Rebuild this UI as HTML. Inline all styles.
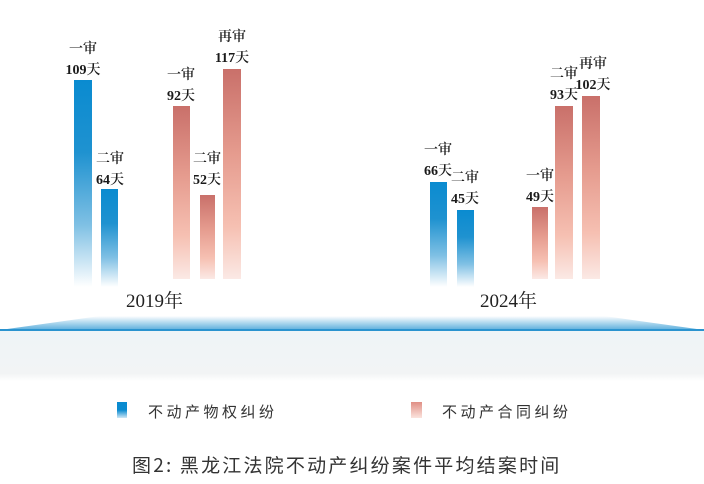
<!DOCTYPE html>
<html><head><meta charset="utf-8"><style>
body{margin:0;width:704px;height:484px;background:#fff;position:relative;overflow:hidden;font-family:"Liberation Serif","Noto Serif CJK SC",serif;color:#222}
.b{position:absolute}
.bl{background:linear-gradient(to bottom,#0a8bd0 0%,#1f92d0 35%,#7fc0e4 70%,rgba(255,255,255,0) 100%)}
.rd{background:linear-gradient(to bottom,#c9706a 0%,#e59b8e 40%,#f6c0b2 75%,#fbe9e5 100%)}
.l{position:absolute;text-align:center;font-size:14px;line-height:21px;width:50px;font-weight:600;color:#1a1a1a}
.y{position:absolute;font-size:19px;top:286px}
.lg{position:absolute;top:401px;font-size:15px;letter-spacing:3.5px;font-family:"Noto Sans CJK SC",sans-serif;color:#333}
</style></head><body>
<div class="b bl" style="left:74px;top:80px;width:18px;height:207px"></div>
<div class="b bl" style="left:101px;top:189px;width:17px;height:98px"></div>
<div class="b rd" style="left:173px;top:106px;width:17px;height:173px"></div>
<div class="b rd" style="left:200px;top:195px;width:15px;height:84px"></div>
<div class="b rd" style="left:223px;top:69px;width:18px;height:210px"></div>
<div class="b bl" style="left:430px;top:182px;width:17px;height:105px"></div>
<div class="b bl" style="left:457px;top:210px;width:17px;height:77px"></div>
<div class="b rd" style="left:532px;top:207px;width:16px;height:72px"></div>
<div class="b rd" style="left:555px;top:106px;width:18px;height:173px"></div>
<div class="b rd" style="left:582px;top:96px;width:18px;height:183px"></div>

<div class="l" style="left:58px;top:39px">一审<br>109天</div>
<div class="l" style="left:85px;top:149px">二审<br>64天</div>
<div class="l" style="left:156px;top:65px">一审<br>92天</div>
<div class="l" style="left:182px;top:149px">二审<br>52天</div>
<div class="l" style="left:207px;top:27px">再审<br>117天</div>
<div class="l" style="left:413px;top:140px">一审<br>66天</div>
<div class="l" style="left:440px;top:168px">二审<br>45天</div>
<div class="l" style="left:515px;top:166px">一审<br>49天</div>
<div class="l" style="left:539px;top:64px">二审<br>93天</div>
<div class="l" style="left:568px;top:54px">再审<br>102天</div>

<div class="y" style="left:126px">2019年</div>
<div class="y" style="left:480px">2024年</div>

<svg class="b" style="left:0;top:310px" width="704" height="75">
<defs><linearGradient id="g" x1="0" y1="0" x2="0" y2="1"><stop offset="0" stop-color="#fff"/><stop offset="1" stop-color="#5aaedc"/></linearGradient>
<linearGradient id="g2" x1="0" y1="0" x2="0" y2="1"><stop offset="0" stop-color="#eef4f7"/><stop offset="0.85" stop-color="#f2f4f5"/><stop offset="1" stop-color="#fff"/></linearGradient></defs>
<polygon points="0,20 100,6 604,6 704,20" fill="url(#g)"/>
<rect x="0" y="19" width="704" height="2" fill="#2a93cf"/>
<rect x="0" y="21" width="704" height="50" fill="url(#g2)"/>
</svg>

<div class="b" style="left:117px;top:402px;width:10px;height:16px;background:linear-gradient(#0a8bd0,#0a8bd0 50%,#cfe7f5)"></div>
<div class="lg" style="left:148px">不动产物权纠纷</div>
<div class="b" style="left:411px;top:402px;width:11px;height:16px;background:linear-gradient(#e08f85,#fbe3dd)"></div>
<div class="lg" style="left:442px">不动产合同纠纷</div>
<div class="b" style="left:132px;top:451px;font-size:19px;letter-spacing:2.2px;font-family:'Noto Sans CJK SC',sans-serif;color:#333">图2: 黑龙江法院不动产纠纷案件平均结案时间</div>
</body></html>
